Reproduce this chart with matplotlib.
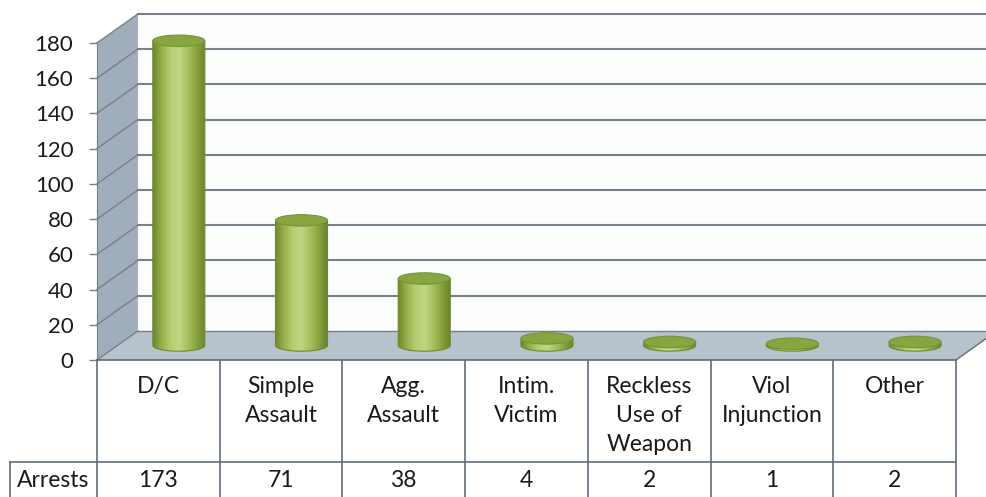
import numpy as np
import matplotlib.pyplot as plt
from matplotlib.patches import Ellipse, Polygon
from matplotlib.colors import LinearSegmentedColormap

# données du graphique
categories = ['D/C', 'Simple\nAssault', 'Agg.\nAssault', 'Intim.\nVictim',
              'Reckless\nUse of\nWeapon', 'Viol\nInjunction', 'Other']
arrests = [173, 71, 38, 4, 2, 1, 2]
row_label = 'Arrests'
y_ticks = list(range(0, 181, 20))
y_top = 180

plt.rcParams['font.family'] = ['Lato', 'DejaVu Sans']
text_color = '#1a1a1a'
grid_color = '#76818b'
table_color = '#5f6d7b'

fig = plt.figure(figsize=(9.86, 4.97), dpi=100)
ax = fig.add_axes([0, 0, 1, 1])
n = len(categories)
xlim = (-1.29, n - 0.5 + 0.245)
ylim = (-77.8, 204.4)

# profondeur de la vue 3D (en unités de données)
DX, DY = 0.334, 16.5

# murs et sol
x_l, x_r = -0.5, n - 0.5
ax.add_patch(Polygon([(x_l + DX, DY), (x_r + DX, DY), (x_r + DX, y_top + DY), (x_l + DX, y_top + DY)],
                     closed=True, facecolor='#fcfdfd', edgecolor='none', zorder=0))
ax.add_patch(Polygon([(x_l, 0), (x_l + DX, DY), (x_l + DX, y_top + DY), (x_l, y_top)],
                     closed=True, facecolor='#a0adba', edgecolor='none', zorder=1))
ax.add_patch(Polygon([(x_l, 0), (x_r, 0), (x_r + DX, DY), (x_l + DX, DY)],
                     closed=True, facecolor='#b7c2cd', edgecolor='none', zorder=1))

# lignes de quadrillage (mur du fond + mur latéral)
for v in y_ticks[1:]:
    ax.plot([x_l + DX, x_r + DX], [v + DY, v + DY], color=grid_color, lw=1.5, zorder=2, clip_on=False)
    ax.plot([x_l, x_l + DX], [v, v + DY], color=grid_color, lw=1.0, zorder=2, clip_on=False)
ax.plot([x_l + DX, x_r + DX], [DY, DY], color=grid_color, lw=1.0, zorder=2)
ax.plot([x_l, x_l + DX], [0, DY], color=grid_color, lw=1.0, zorder=2)
ax.plot([x_r, x_r + DX], [0, DY], color=table_color, lw=1.0, zorder=2)

# cylindres
cyl_cmap = LinearSegmentedColormap.from_list(
    'cyl', ['#6d872c', '#96b14c', '#b6ce72', '#c0d684', '#a7c05e', '#86a23c', '#67822a'])
grad = np.linspace(0, 1, 256).reshape(1, -1)
w, eh = 0.424, 6.5
for i, v in enumerate(arrests):
    cx = i + DX / 2
    base = DY / 2
    top = base + v
    t = np.linspace(np.pi, 2 * np.pi, 60)
    pts = [(cx + w / 2 * np.cos(a), base + eh / 2 * np.sin(a)) for a in t]
    pts += [(cx + w / 2, top), (cx - w / 2, top)]
    body = Polygon(pts, closed=True, facecolor='none', edgecolor='#6e8a2e', lw=0.8, zorder=4)
    ax.add_patch(body)
    im = ax.imshow(grad, extent=[cx - w / 2, cx + w / 2, base - eh / 2, top], aspect='auto',
                   cmap=cyl_cmap, zorder=3)
    im.set_clip_path(body)
    im.set_clip_box(None)
    ax.add_patch(Ellipse((cx, top), w, eh, facecolor='#88a640', edgecolor='#76933a', lw=0.8, zorder=5))

ax.set_xlim(*xlim)
ax.set_ylim(*ylim)

# axe vertical
for s in ['top', 'right', 'bottom']:
    ax.spines[s].set_visible(False)
ax.spines['left'].set_position(('data', x_l))
ax.spines['left'].set_bounds(0, y_top)
ax.spines['left'].set_color(grid_color)
ax.spines['left'].set_zorder(2)
ax.set_xticks([])
ax.set_yticks(y_ticks)
ax.tick_params(axis='y', length=6, width=1, color=grid_color, pad=11, labelsize=16, labelcolor=text_color)

# tableau de données
row_split = -57.9
bottom = -80
x_lab = -1.209
ax.plot([x_l, x_r], [0, 0], color=table_color, lw=1.2, zorder=6)
ax.plot([x_lab, x_r], [row_split, row_split], color=table_color, lw=1.2, zorder=6)
for k in range(n + 1):
    ax.plot([x_l + k, x_l + k], [0, bottom], color=table_color, lw=1.2, zorder=6, clip_on=False)
ax.plot([x_lab, x_lab], [row_split, bottom], color=table_color, lw=1.2, zorder=6, clip_on=False)

fs = 16.5
for i, (cat, v) in enumerate(zip(categories, arrests)):
    ax.text(i, -9.0, cat, ha='center', va='top', fontsize=fs, color=text_color, linespacing=1.47)
    ax.text(i, -68.2, str(v), ha='center', va='center', fontsize=fs, color=text_color)
ax.text((x_lab + x_l) / 2, -68.2, row_label, ha='center', va='center', fontsize=fs, color=text_color)

fig.savefig('out.png', dpi=100, facecolor='white')
